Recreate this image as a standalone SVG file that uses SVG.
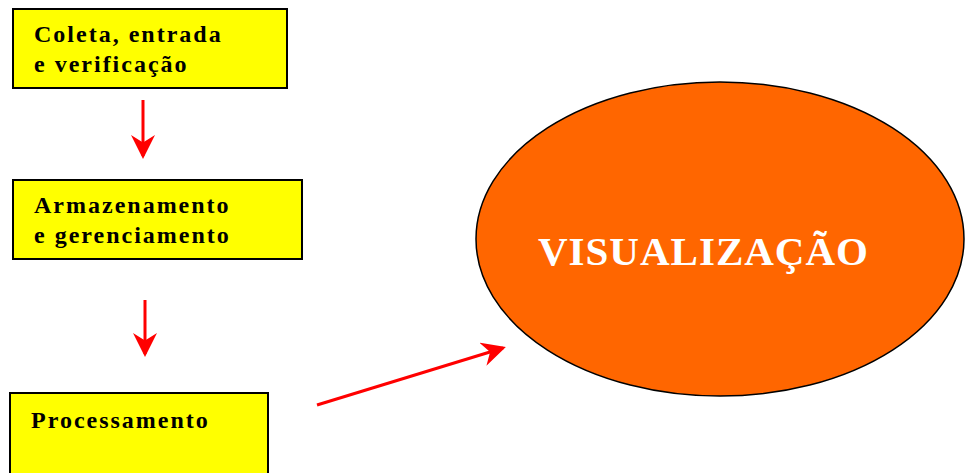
<svg xmlns="http://www.w3.org/2000/svg" width="965" height="473" viewBox="0 0 965 473">
<style>
.box{fill:#ffff00;stroke:#000;stroke-width:2}
.t{font-family:"Liberation Serif","Times New Roman",serif;font-weight:bold;font-size:24px;fill:#000;letter-spacing:2px}
.big{font-family:"Liberation Serif","Times New Roman",serif;font-weight:bold;font-size:41px;fill:#fff;letter-spacing:1px}
.c{stroke:#ff0000;stroke-width:3;fill:none}
</style>
<defs>
<marker id="ah" markerWidth="8" markerHeight="8" refX="7" refY="4" orient="auto" markerUnits="strokeWidth">
<path d="M0,0 L8,4 L0,8 L2.5,4 Z" fill="#ff0000"/>
</marker>
</defs>
<rect width="965" height="473" fill="#fff"/>
<g id="connectors">
<line class="c" x1="143" y1="100" x2="143" y2="156" marker-end="url(#ah)"/>
<line class="c" x1="145" y1="300" x2="145" y2="354" marker-end="url(#ah)"/>
<line class="c" x1="317" y1="405" x2="503" y2="348" marker-end="url(#ah)"/>
</g>
<g id="n1">
<rect class="box" x="13" y="9" width="274" height="79"/>
<text class="t" x="34" y="42">Coleta, entrada</text>
<text class="t" x="34" y="72">e verificação</text>
</g>
<g id="n2">
<rect class="box" x="13" y="180" width="289" height="79"/>
<text class="t" x="34" y="213">Armazenamento</text>
<text class="t" x="34" y="243">e gerenciamento</text>
</g>
<g id="n3">
<rect class="box" x="10" y="393" width="258" height="90"/>
<text class="t" x="31" y="428">Processamento</text>
</g>
<g id="n4">
<ellipse cx="720" cy="239" rx="244" ry="157" fill="#ff6600" stroke="#000" stroke-width="1.5"/>
<text class="big" x="538" y="265">VISUALIZAÇÃO</text>
</g>
</svg>
